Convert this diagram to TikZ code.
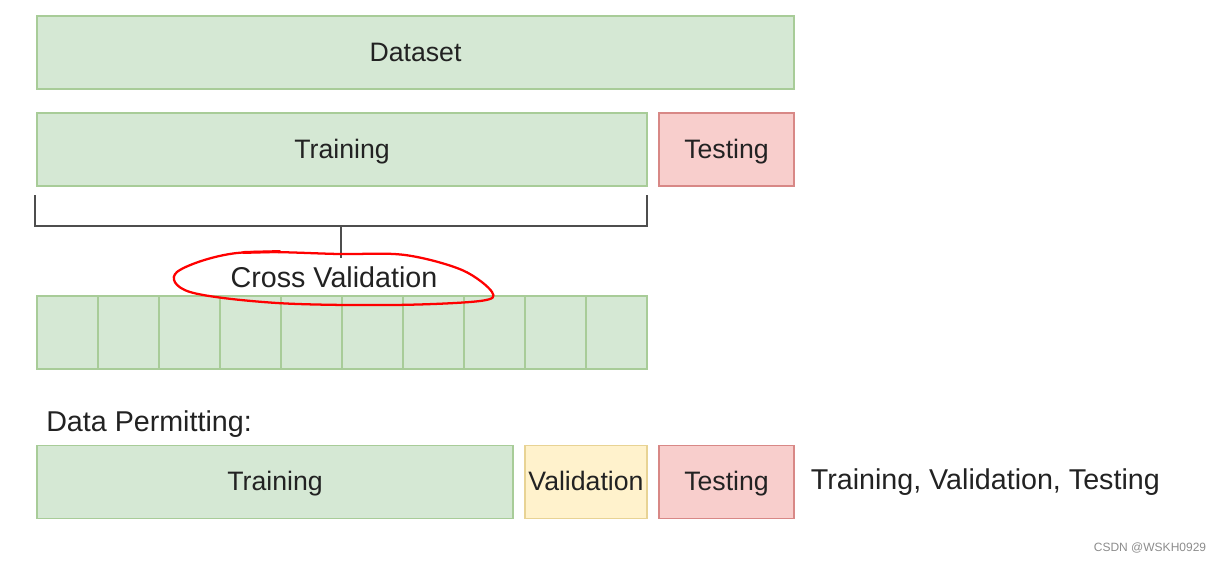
\documentclass[tikz,border=0pt]{standalone}
\usepackage{fontspec}
\setmainfont{Liberation Sans}
\usepackage{xcolor}
\usetikzlibrary{calc,positioning}
\definecolor{greenfill}{HTML}{D5E8D4}
\definecolor{greenline}{HTML}{A8CC98}
\definecolor{redfill}{HTML}{F8CECC}
\definecolor{redline}{HTML}{D88886}
\definecolor{yellowfill}{HTML}{FFF2CC}
\definecolor{yellowline}{HTML}{E8D394}
\definecolor{txt}{HTML}{222222}

\begin{document}
\begin{tikzpicture}[x=0.75pt,y=-0.75pt,
    box/.style={draw,line width=0.8pt,minimum height=54.75pt,inner sep=0pt,text height=16pt,text depth=3pt,text=txt,font=\fontsize{20}{24}\selectfont},
    greenbox/.style={box,fill=greenfill,draw=greenline},
    redbox/.style={box,fill=redfill,draw=redline},
    yellowbox/.style={box,fill=yellowfill,draw=yellowline},
    label/.style={text=txt,inner sep=0pt,font=\fontsize{21.5}{26}\selectfont}]
        \useasboundingbox (0,0) rectangle (1226,563);
        % top rows
        \node[greenbox,minimum width=567.75pt] (dataset) at (415.5,52.5) {Dataset};
        \node[greenbox,minimum width=457.5pt] (train) at (342,149.5) {Training};
        \node[redbox,minimum width=101.25pt] (test) at (726.5,149.5) {Testing};
        % bracket under training
        \coordinate (bl) at (35,195); \coordinate (br) at (647,195); \coordinate (stem) at (341,226);
        \draw[txt!80,line width=1.5pt] (bl) |- (stem) -| (br);
        \node[label] (cv) at (334,277) {Cross Validation};
        \draw[txt!80,line width=1.5pt] (stem) -- (341,258);
        % folds
        \foreach \k in {0,...,9}{\node[greenbox,minimum width=45.75pt] (fold\k) at (67.5+61*\k,332.5) {};}
        % red mark round the label
        \draw[red,line width=1.7pt] plot[smooth cycle,tension=0.55] coordinates {(177,272) (237,253) (340,254) (405,255) (462,270) (492,292) (480,301) (393,305) (277,303) (190,292)};
        \draw[red,line width=2.2pt,line cap=round] (243,252.5)--(280,251.5);
        % data permitting
        \node[label,anchor=west] (dp) at (46,424) {Data Permitting:};
        \node[greenbox,minimum width=357pt] (train2) at (275,482) {Training};
        \node[yellowbox,minimum width=91.5pt] (val) at (586,482) {Validation};
        \node[redbox,minimum width=101.25pt] (test2) at (726.5,482) {Testing};
        \node[label,anchor=west,right=12pt of test2] (all) {Training, Validation, Testing};
        \node[text=black!45,font=\fontsize{9}{10}\selectfont] (mark) at (1150,548) {CSDN @WSKH0929};
      \end{tikzpicture}
\end{document}
